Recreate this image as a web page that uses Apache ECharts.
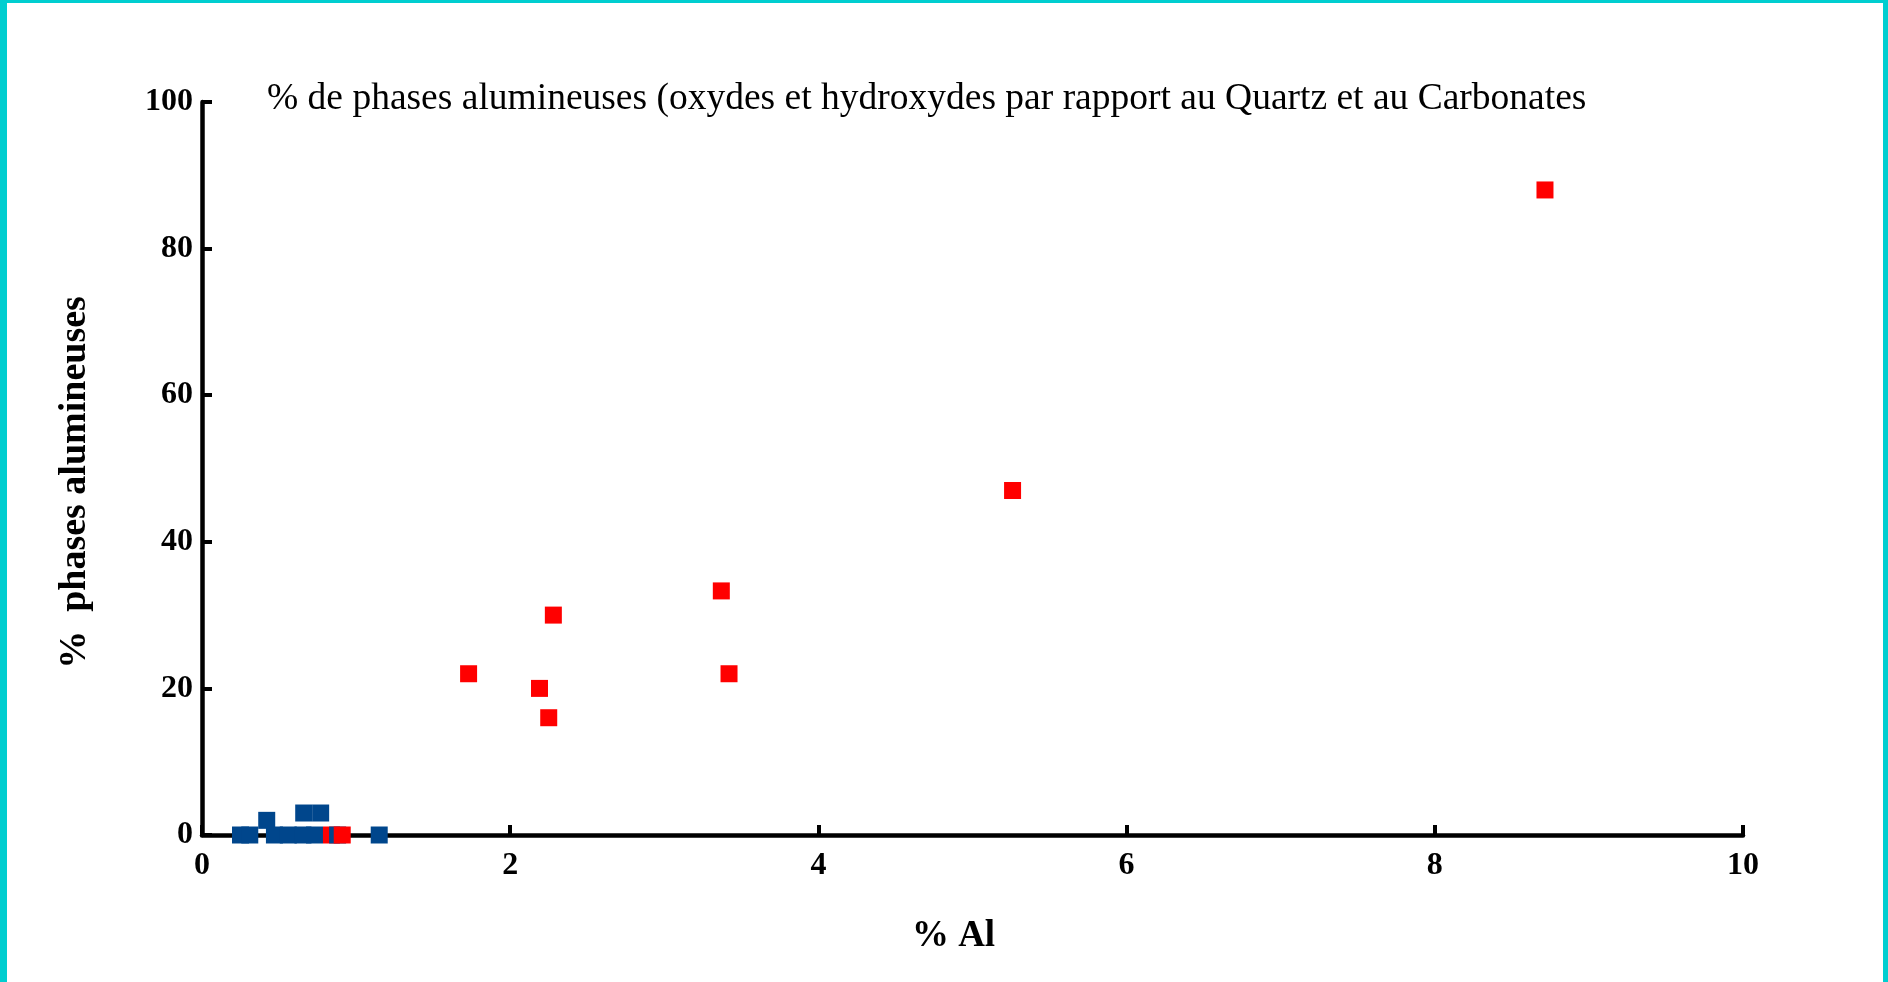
<!DOCTYPE html>
<html>
<head>
<meta charset="utf-8">
<script src="https://cdn.jsdelivr.net/npm/echarts@6/dist/echarts.min.js"></script>
<style>
  html, body { margin: 0; padding: 0; background: #fff; }
  #chart { position: absolute; left: 0; top: 0; width: 1888px; height: 982px; }
  .bd { position: absolute; background: #00CED0; }
</style>
</head>
<body>
<div id="chart"></div>
<div class="bd" style="left:0;top:0;width:7px;height:982px;"></div>
<div class="bd" style="left:0;top:0;width:1888px;height:3px;"></div>
<div class="bd" style="left:1883px;top:0;width:5px;height:982px;"></div>
<script>
// ---- data ----
const blueAl    = [0.25, 0.31, 0.42, 0.47, 0.56, 0.655, 0.66, 0.73, 0.77, 0.88, 1.15];
const bluePhase = [0,    0,    2,    0,    0,    0,     3,    0,    3,    0,    0];
const redAl     = [0.84, 0.91, 1.73, 2.19, 2.25, 2.28, 3.37, 3.42, 5.26, 8.715];
const redPhase  = [0,    0,    22,   20,   16,   30,   33.3, 22,   47,   88];
const xTicks = [0, 2, 4, 6, 8, 10];
const yTicks = [0, 20, 40, 60, 80, 100];

const BLUE = '#00468C';
const RED = '#FF0000';

// merge, sorted by Al (drawing order as in the reference)
const pts = [];
blueAl.forEach((x, i) => pts.push({ value: [x, bluePhase[i]], itemStyle: { color: BLUE, opacity: 1 } }));
redAl.forEach((x, i) => pts.push({ value: [x, redPhase[i]], itemStyle: { color: RED, opacity: 1 } }));
pts.sort((a, b) => a.value[0] - b.value[0]);

const serif = '"Liberation Serif", "Times New Roman", serif';
const chart = echarts.init(document.getElementById('chart'), null, { renderer: 'canvas' });
chart.setOption({
  animation: false,
  backgroundColor: '#fff',
  title: {
    text: '% de phases alumineuses (oxydes et hydroxydes par rapport au Quartz et au Carbonates',
    left: 262, top: 75,
    textStyle: { fontFamily: serif, fontWeight: 'normal', fontSize: 37.5, color: '#000' }
  },
  grid: { left: 202, right: 145, top: 102, bottom: 147 },
  xAxis: {
    type: 'value', min: xTicks[0], max: xTicks[xTicks.length - 1], interval: xTicks[1] - xTicks[0],
    name: '% Al', nameLocation: 'middle', nameGap: 83,
    nameTextStyle: { fontFamily: serif, fontWeight: 'bold', fontSize: 37, color: '#000', padding: [0, 38, 0, 0] },
    axisLine: { show: true, lineStyle: { color: '#000', width: 4.5 } },
    axisTick: { show: true, inside: true, length: 10, lineStyle: { color: '#000', width: 4 } },
    axisLabel: { fontFamily: serif, fontWeight: 'bold', fontSize: 32, color: '#000', margin: 15 },
    splitLine: { show: false }
  },
  yAxis: {
    type: 'value', min: yTicks[0], max: yTicks[yTicks.length - 1], interval: yTicks[1] - yTicks[0],
    name: '%  phases alumineuses', nameLocation: 'middle', nameGap: 108,
    nameTextStyle: { fontFamily: serif, fontWeight: 'bold', fontSize: 38, color: '#000', padding: [0, 28, 0, 0] },
    axisLine: { show: true, lineStyle: { color: '#000', width: 4.5 } },
    axisTick: { show: true, inside: true, length: 10, lineStyle: { color: '#000', width: 4 } },
    axisLabel: { fontFamily: serif, fontWeight: 'bold', fontSize: 32, color: '#000', margin: 9 },
    splitLine: { show: false }
  },
  series: [{
    type: 'scatter',
    symbol: 'rect',
    symbolSize: 17,
    z: 5,
    itemStyle: { opacity: 1 },
    data: pts,
    emphasis: { disabled: true }
  }]
});
</script>
</body>
</html>
